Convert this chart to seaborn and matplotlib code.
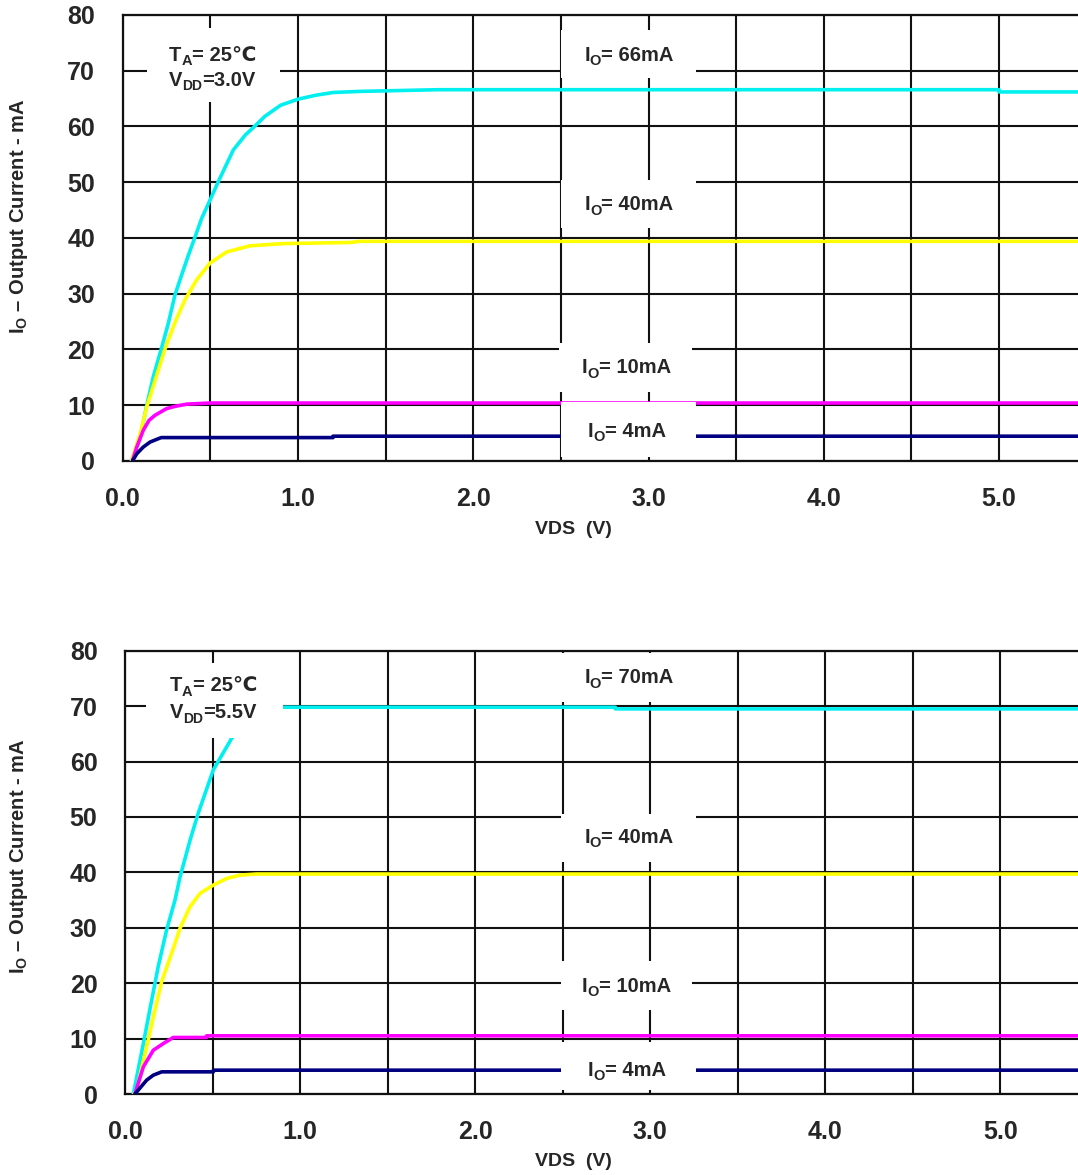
import numpy as np
import pandas as pd
import matplotlib
matplotlib.use("Agg")
import matplotlib.pyplot as plt
from matplotlib.patches import Rectangle
from matplotlib.ticker import MultipleLocator, FixedLocator
import seaborn as sns

# ---------------- data ----------------
# VDD = 3.0 V
vds_66 = [0.05, 0.10, 0.137, 0.174, 0.218, 0.26, 0.298, 0.33, 0.37, 0.408, 0.45, 0.498,
          0.545, 0.631, 0.70, 0.755, 0.81, 0.90, 1.0, 1.1, 1.2, 1.355, 1.8, 5.0, 5.0, 5.5]
io_66 = [0, 4.3, 10, 15.1, 19.9, 24.7, 29.8, 32.8, 36.5, 39.8, 43.5, 46.8,
         50.1, 55.8, 58.5, 60.1, 61.8, 63.8, 64.9, 65.6, 66.1, 66.3, 66.6, 66.6, 66.2, 66.2]
vds_40a = [0.05, 0.10, 0.14, 0.19, 0.24, 0.30, 0.355, 0.422, 0.498, 0.593, 0.726, 0.916,
           1.30, 1.35, 5.5]
io_40a = [0, 5, 10, 15, 20, 25, 28.9, 32.5, 35.5, 37.5, 38.6, 39.0, 39.2, 39.4, 39.4]
vds_10a = [0.055, 0.08, 0.117, 0.15, 0.184, 0.25, 0.298, 0.365, 0.498, 5.5]
io_10a = [0, 2.5, 5.5, 7.3, 8.2, 9.4, 9.8, 10.2, 10.4, 10.4]
vds_4a = [0.055, 0.08, 0.117, 0.156, 0.203, 0.22, 1.2, 1.2, 5.5]
io_4a = [0, 1.3, 2.5, 3.4, 4.0, 4.2, 4.2, 4.45, 4.45]

# VDD = 5.5 V
vds_70 = [0.046, 0.103, 0.14, 0.188, 0.236, 0.284, 0.313, 0.37, 0.417, 0.503, 0.608,
          0.70, 0.80, 0.90, 2.80, 2.80, 5.5]
io_70 = [0, 9.1, 15.2, 23.0, 29.6, 35.0, 39.2, 45.8, 50.7, 58.5, 64.2,
         67.5, 69.2, 69.8, 69.8, 69.5, 69.5]
vds_40b = [0.05, 0.065, 0.122, 0.17, 0.208, 0.265, 0.313, 0.37, 0.427, 0.503, 0.58,
           0.655, 0.75, 5.5]
io_40b = [0, 0.7, 8.5, 15.2, 20.3, 25.4, 29.9, 33.8, 36.2, 37.7, 38.9, 39.5, 39.7, 39.7]
vds_10b = [0.055, 0.103, 0.16, 0.217, 0.274, 0.465, 0.465, 5.5]
io_10b = [0, 4.9, 7.9, 9.1, 10.2, 10.2, 10.5, 10.5]
vds_4b = [0.055, 0.122, 0.16, 0.208, 0.503, 0.503, 5.5]
io_4b = [0, 2.5, 3.4, 4.0, 4.0, 4.3, 4.3]

series_names = ["66mA", "40mA", "10mA", "4mA"]
series_names_b = ["70mA", "40mA", "10mA", "4mA"]
series_colors = ["#00F0F0", "#FFFF00", "#FF00FF", "#000080"]

x_ticks = [0, 1, 2, 3, 4, 5]
x_tick_labels = ["0.0", "1.0", "2.0", "3.0", "4.0", "5.0"]
y_ticks = [0, 10, 20, 30, 40, 50, 60, 70, 80]

# ---------------- style ----------------
sns.set_style("white")
plt.rcParams["font.family"] = ["Liberation Sans", "DejaVu Sans"]
plt.rcParams["mathtext.fontset"] = "custom"
plt.rcParams["mathtext.bf"] = "Liberation Sans:bold"
plt.rcParams["mathtext.rm"] = "Liberation Sans"

TICK_FONT = ["Liberation Sans Narrow", "DejaVu Sans Condensed", "Liberation Sans"]
LABEL_FONT = ["Liberation Sans", "DejaVu Sans"]
YLABEL = r"$\mathbf{I}_{\mathbf{O}}$ – Output Current - mA"

W, H, DPI = 1078, 1175, 100
fig = plt.figure(figsize=(W / DPI, H / DPI), dpi=DPI)


def frame(name_list, curves):
    rows = []
    for name, (xs, ys) in zip(name_list, curves):
        for a, b in zip(xs, ys):
            rows.append({"VDS": a, "IO": b, "curve": name})
    return pd.DataFrame(rows)


def setup_axes(rect):
    ax = fig.add_axes(rect)
    ax.set_xlim(0, 5.5)
    ax.set_ylim(0, 80)
    ax.xaxis.set_major_locator(FixedLocator(x_ticks))
    ax.xaxis.set_minor_locator(MultipleLocator(0.5))
    ax.yaxis.set_major_locator(FixedLocator(y_ticks))
    ax.set_xticklabels(x_tick_labels)
    ax.grid(True, which="both", color="#111111", lw=1.5, zorder=1)
    ax.set_axisbelow(True)
    for s in ax.spines.values():
        s.set_color("#111111")
        s.set_linewidth(1.6)
        s.set_visible(True)
    ax.tick_params(axis="both", which="both", length=0)
    ax.tick_params(axis="y", pad=20)
    ax.tick_params(axis="x", pad=19)
    for lab in ax.get_xticklabels() + ax.get_yticklabels():
        lab.set_fontfamily(TICK_FONT)
        lab.set_fontweight("bold")
        lab.set_fontsize(18)
    return ax


def set_labels(ax, xlabel_xy, ylabel_xy):
    ax.set_xlabel("VDS  (V)", fontsize=14, fontweight="bold", family=LABEL_FONT)
    ax.set_ylabel(YLABEL, fontsize=14.5, fontweight="bold", family=LABEL_FONT)
    ax.xaxis.set_label_coords(*xlabel_xy)
    ax.yaxis.set_label_coords(*ylabel_xy)


groups = []


def rich_text(ax, x, y, parts):
    """Bold label built from pieces (text, size, vertical offset in points)."""
    arts = []
    prev = None
    for s, size, dy in parts:
        if prev is None:
            t = ax.annotate(s, xy=(x, y), xycoords="data", xytext=(0, dy),
                            textcoords="offset points", ha="left", va="baseline",
                            fontsize=size, fontweight="bold", family=LABEL_FONT, zorder=8)
        else:
            t = ax.annotate(s, xy=(1, y), xycoords=(prev, "data"), xytext=(0, dy),
                            textcoords="offset points", ha="left", va="baseline",
                            fontsize=size, fontweight="bold", family=LABEL_FONT, zorder=8)
        arts.append(t)
        prev = t
    groups.append(arts)


def white_box(ax, x0, x1, y0, y1):
    ax.add_patch(Rectangle((x0, y0), x1 - x0, y1 - y0, facecolor="white",
                           edgecolor="none", zorder=7))


def io_label(ax, x, y, value):
    rich_text(ax, x, y, [("I", 14.5, 0), ("O", 10.5, -3.2), ("= " + value, 14.5, 0)])


def draw_panel(ax, df, names):
    sns.lineplot(data=df, x="VDS", y="IO", hue="curve", hue_order=names,
                 palette=dict(zip(names, series_colors)), units="curve",
                 estimator=None, sort=False, legend=False, lw=2.6, ax=ax, zorder=3)


# ---------------- top panel: VDD = 3.0 V ----------------
ax1 = setup_axes([122.75 / W, 714 / H, 963.9 / W, 446 / H])
df1 = frame(series_names, [(vds_66, io_66), (vds_40a, io_40a),
                           (vds_10a, io_10a), (vds_4a, io_4a)])
draw_panel(ax1, df1, series_names)
set_labels(ax1, (0.468, -0.134), (-0.0962, 0.548))

white_box(ax1, 0.139, 0.90, 64.4, 77.7)
rich_text(ax1, 0.512, 71.75, [("T", 14.5, 0), ("A", 10.5, -3.2), ("= 25℃", 14.5, 0)])
rich_text(ax1, 0.512, 67.3, [("V", 14.5, 0), ("DD", 10, -3.2), ("=3.0V", 14.5, 0)])

white_box(ax1, 2.50, 3.27, 68.7, 77.3)
io_label(ax1, 2.888, 71.8, "66mA")
white_box(ax1, 2.50, 3.27, 41.8, 50.4)
io_label(ax1, 2.888, 45.0, "40mA")
white_box(ax1, 2.49, 3.25, 12.4, 21.2)
io_label(ax1, 2.872, 15.7, "10mA")
white_box(ax1, 2.50, 3.27, 0.7, 10.6)
io_label(ax1, 2.875, 4.36, "4mA")

# ---------------- bottom panel: VDD = 5.5 V ----------------
ax2 = setup_axes([125.3 / W, 81 / H, 962.5 / W, 443.3 / H])
df2 = frame(series_names_b, [(vds_70, io_70), (vds_40b, io_40b),
                             (vds_10b, io_10b), (vds_4b, io_4b)])
draw_panel(ax2, df2, series_names_b)
set_labels(ax2, (0.4657, -0.133), (-0.099, 0.537))

white_box(ax2, 0.118, 0.901, 64.2, 77.8)
rich_text(ax2, 0.503, 72.7, [("T", 14.5, 0), ("A", 10.5, -3.2), ("= 25℃", 14.5, 0)])
rich_text(ax2, 0.503, 67.8, [("V", 14.5, 0), ("DD", 10, -3.2), ("=5.5V", 14.5, 0)])

white_box(ax2, 2.49, 3.26, 70.7, 79.6)
io_label(ax2, 2.877, 74.1, "70mA")
white_box(ax2, 2.49, 3.26, 41.9, 50.5)
io_label(ax2, 2.877, 45.3, "40mA")
white_box(ax2, 2.49, 3.24, 15.2, 24.0)
io_label(ax2, 2.862, 18.4, "10mA")
white_box(ax2, 2.49, 3.26, 0.7, 9.4)
io_label(ax2, 2.865, 3.25, "4mA")

# center each multi-part label on its anchor
fig.canvas.draw()
renderer = fig.canvas.get_renderer()
for arts in groups:
    x0 = arts[0].get_window_extent(renderer).x0
    x1 = arts[-1].get_window_extent(renderer).x1
    width_pt = (x1 - x0) * 72.0 / DPI
    arts[0].xyann = (-width_pt / 2.0, 0)

fig.savefig("out.png", dpi=DPI)
